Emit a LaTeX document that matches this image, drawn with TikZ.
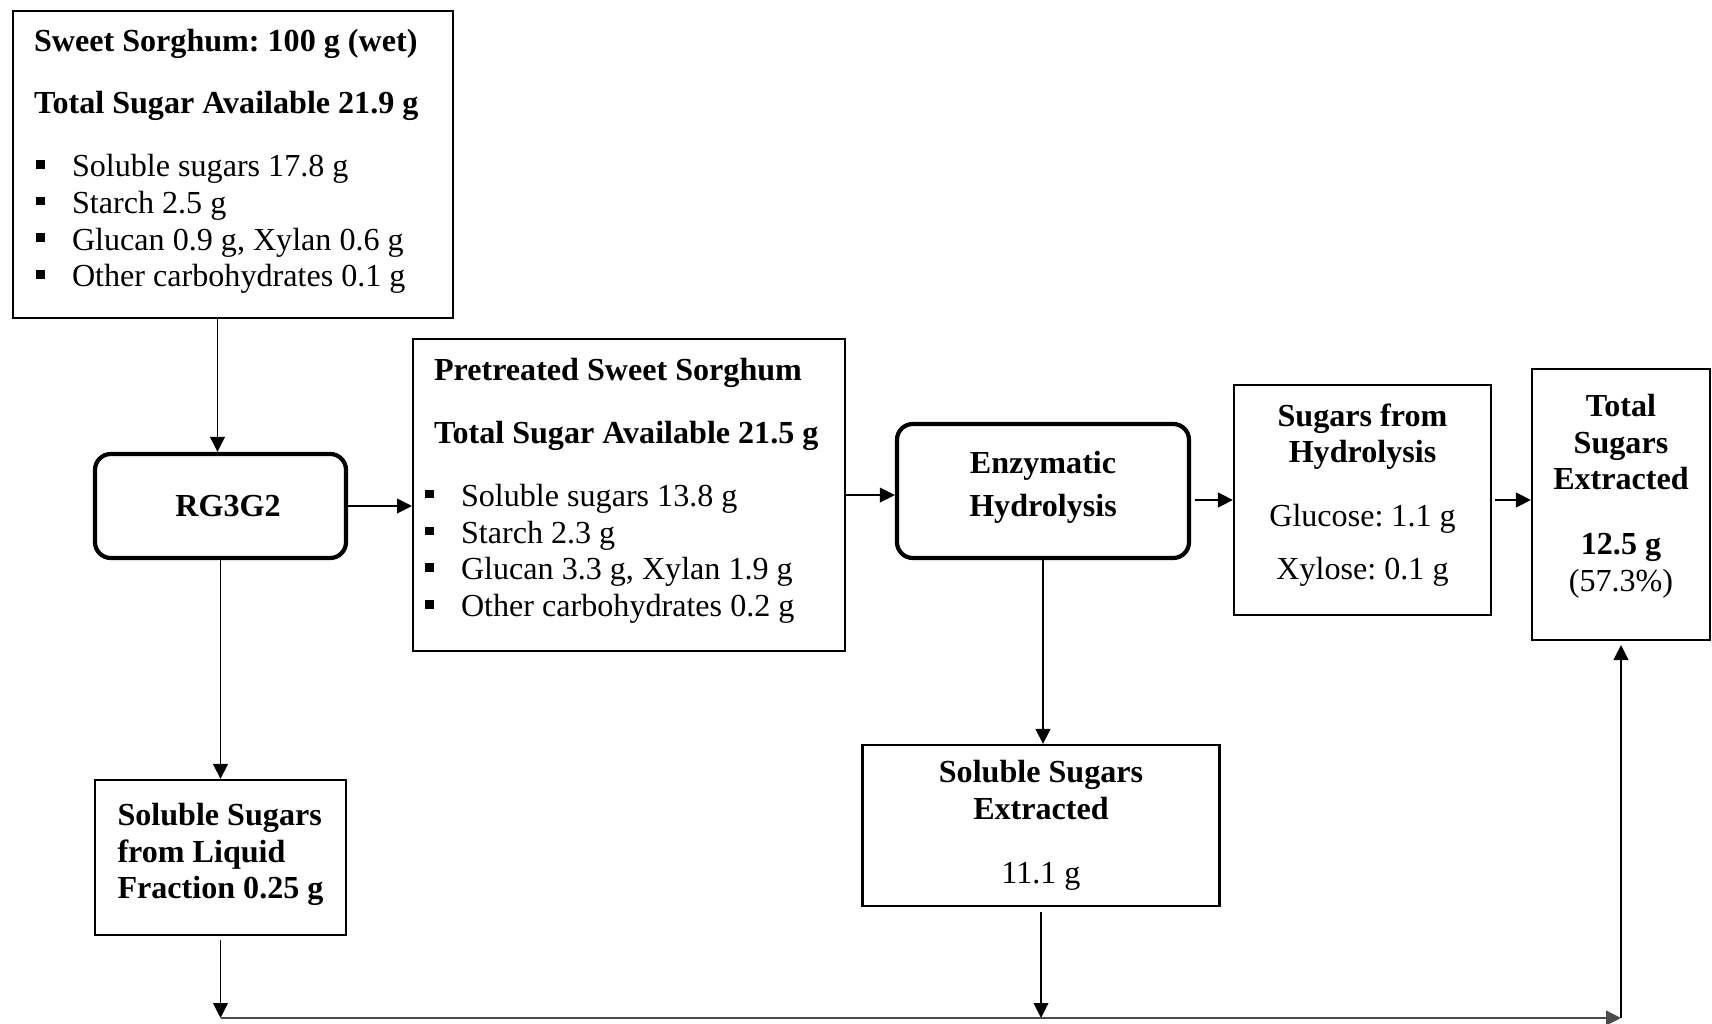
\documentclass[tikz,border=0pt]{standalone}
\usepackage{fontspec}
\setmainfont{Liberation Serif}
\usetikzlibrary{arrows.meta}
\newdimen\pxu \pxu=0.38pt
\newcommand\sqitem[1]{\hspace*{#1}\makebox[36\pxu][l]{\rule[3pt]{3.3pt}{3.3pt}}}
\frenchspacing

\begin{document}
\begin{tikzpicture}[x=0.38pt,y=-0.38pt,>={Triangle[length=5.7pt,width=5.6pt]},
  font=\fontsize{12.2pt}{13.95pt}\selectfont,
  plainbox/.style={draw,line width=0.8pt},
  procbox/.style={draw,line width=1.6pt,rounded corners=6pt},
  flow/.style={->,line width=0.6pt}]
\useasboundingbox (0,0) rectangle (1712,1024);
\node[plainbox,anchor=north west,inner ysep=0pt,inner xsep=21*\pxu] (raw) at (12,10) {\parbox[c][307\pxu][t]{398\pxu}{\vspace*{18\pxu}%
\textbf{Sweet Sorghum: 100 g (wet)}\par\vspace{9.6pt}
\textbf{Total Sugar Available 21.9 g}\par\vspace{10.1pt}
\sqitem{2\pxu}Soluble sugars 17.8 g\par
\sqitem{2\pxu}Starch 2.5 g\par
\sqitem{2\pxu}Glucan 0.9 g, Xylan 0.6 g\par
\sqitem{2\pxu}Other carbohydrates 0.1 g}};
\node[plainbox,anchor=north west,inner ysep=0pt,inner xsep=21*\pxu] (pre) at (412,338) {\parbox[c][312\pxu][t]{390\pxu}{\vspace*{19\pxu}%
\textbf{Pretreated Sweet Sorghum}\par\vspace{9.9pt}
\textbf{Total Sugar Available 21.5 g}\par\vspace{10.1pt}
\sqitem{-9\pxu}Soluble sugars 13.8 g\par
\sqitem{-9\pxu}Starch 2.3 g\par
\sqitem{-9\pxu}Glucan 3.3 g, Xylan 1.9 g\par
\sqitem{-9\pxu}Other carbohydrates 0.2 g}};
\node[procbox,minimum width=251*\pxu,minimum height=104*\pxu] (rg) at (220.5,506) {\hspace*{15\pxu}\textbf{RG3G2}};
\node[procbox,minimum width=292*\pxu,minimum height=134*\pxu] (enz) at (1043,491) {};
\node[align=center] (enz-txt) at (1043,487) {\textbf{Enzymatic}\\[2.3pt]\textbf{Hydrolysis}};
\node[plainbox,minimum width=257*\pxu,minimum height=230*\pxu] (hyd) at (1362.5,500) {};
\node[align=center] (hyd-txt) at (1362.5,495) {\textbf{Sugars from}\\\textbf{Hydrolysis}\\[10.4pt]Glucose: 1.1 g\\[6pt]Xylose: 0.1 g};
\node[plainbox,minimum width=178*\pxu,minimum height=271*\pxu] (tot) at (1621,504.5) {};
\node[align=center] (tot-txt) at (1621,496) {\textbf{Total}\\\textbf{Sugars}\\\textbf{Extracted}\\[10.6pt]\textbf{12.5 g}\\(57.3\%)};
\node[plainbox,minimum width=251*\pxu,minimum height=155*\pxu] (liq) at (220.5,857.5) {};
\node[align=left] (liq-txt) at (220.5,854.5) {\textbf{Soluble Sugars}\\\textbf{from Liquid}\\\textbf{Fraction 0.25 g}};
\node[plainbox,minimum width=357*\pxu,minimum height=161*\pxu,align=center] (sol) at (1041,825.5) {\textbf{Soluble Sugars}\\\textbf{Extracted}\\[10.4pt]11.1 g};
\coordinate (base) at (0,1018);
\coordinate (bend) at (tot.south |- base);
\draw[flow] ([xshift=-3*\pxu]rg.north |- raw.south) -- ([xshift=-3*\pxu]rg.north);
\draw[flow] (rg.east) -- (rg.east -| pre.west);
\draw[flow] (pre.east) -- (pre.east -| enz.west);
\draw[flow,shorten <=1.5pt] (enz.east |- hyd.west) -- (hyd.west);
\draw[flow,shorten <=1pt] (hyd.east) -- (hyd.east -| tot.west);
\draw[flow] (rg.south) -- (liq.north);
\draw[flow] (enz.south) -- (enz.south |- sol.north);
\draw[flow,shorten <=1.5pt] (liq.south) -- (liq.south |- base);
\draw[flow,shorten <=2pt] (sol.south) -- (sol.south |- base);
\draw[flow,line width=0.8pt,black!70] (liq.south |- base) -- (bend);
\draw[flow,shorten >=1.5pt] (bend) -- (tot.south);
\end{tikzpicture}
\end{document}
